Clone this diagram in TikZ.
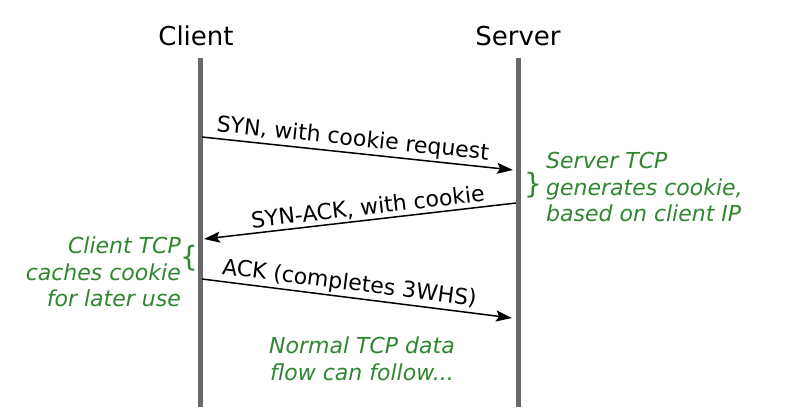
\documentclass[tikz,border=0pt]{standalone}
\usepackage{fontspec}
\setmainfont{DejaVu Sans}
\usetikzlibrary{arrows.meta}
\definecolor{notegreen}{RGB}{46,135,46}
\definecolor{lifegray}{RGB}{105,105,105}
\begin{document}
\begin{tikzpicture}[x=1pt,y=-1pt,
  lifeline/.style={draw=lifegray,line width=5pt},
  header/.style={font=\fontsize{26}{30}\selectfont,inner sep=0pt},
  msg/.style={draw=black,line width=1.5pt,-{Stealth[length=16pt,width=11pt,inset=3pt]}},
  msglabel/.style={font=\fontsize{22}{26}\selectfont,sloped,above,inner sep=2pt},
  note/.style={font=\fontsize{22}{26.5}\selectfont\itshape,text=notegreen,inner sep=0pt,align=left},
  bracetxt/.style={font=\fontsize{28}{30}\selectfont,text=notegreen,inner sep=0pt}]
\useasboundingbox (0,0) rectangle (789,407);
\fill[white] (0,0) rectangle (789,407);
% headers
\node[header] (client) at (196,36) {Client};
\node[header] (server) at (518,36) {Server};
% lifelines
\coordinate (ctop) at (200,58);
\coordinate (cbot) at (200,407);
\coordinate (stop) at (518,58);
\coordinate (sbot) at (518,407);
\draw[lifeline] (ctop) -- (cbot);
\draw[lifeline] (stop) -- (sbot);
% message endpoints
\coordinate (m1a) at (202,137);
\coordinate (m1b) at (513,170);
\coordinate (m2a) at (516,203);
\coordinate (m2b) at (204,239);
\coordinate (m3a) at (202,279);
\coordinate (m3b) at (512,318);
\draw[msg] (m1a) -- node[msglabel,pos=0.48] (l1) {SYN, with cookie request} (m1b);
\draw[msg] (m2a) -- node[msglabel,pos=0.47] (l2) {SYN-ACK, with cookie} (m2b);
\draw[msg] (m3a) -- node[msglabel,pos=0.47] (l3) {ACK (completes 3WHS)} (m3b);
% notes
\node[bracetxt] (sbrace) at (533,185) {\}};
\node[note,anchor=west] (snote) at (546,187) {Server TCP\\generates cookie,\\based on client IP};
\node[bracetxt] (cbrace) at (189,258) {\{};
\node[note,anchor=east,align=right] (cnote) at (181,272) {Client TCP\\caches cookie\\for later use};
\node[note,align=center] (fnote) at (362,359) {Normal TCP data\\flow can follow...};
\end{tikzpicture}
\end{document}
